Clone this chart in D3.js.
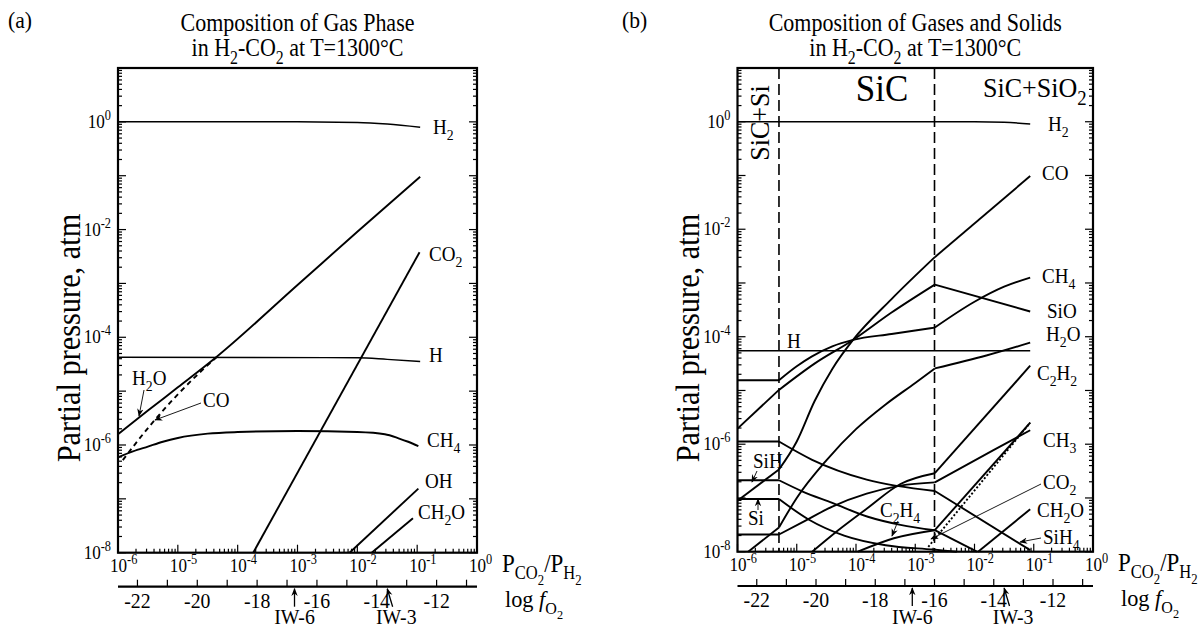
<!DOCTYPE html>
<html>
<head>
<meta charset="utf-8">
<script src="https://cdn.jsdelivr.net/npm/d3@7"></script>
<style>
  body { margin: 0; background: #fff; }
  svg { display: block; }
  text { font-family: "Liberation Serif", "Times New Roman", serif; fill: #000; }
</style>
</head>
<body>
<svg id="chart" width="1202" height="628"></svg>
<script>
// Every point is [log10(PCO2/PH2), log10(partial pressure in atm)].

// (a) gas phase only
const aH2   = [[-6,0],[-3,0],[-2,-0.01],[-1.5,-0.04],[-0.95,-0.10]];
const aH2O  = [[-6,-5.80],[-5.5,-5.36],[-5,-4.93],[-4.38,-4.39],[-3,-3.03],[-2,-2.04],[-0.95,-1.02]];
const aCO   = [[-5.92,-6.28],[-5.45,-5.62],[-5,-5.06],[-4.6,-4.62],[-4.3,-4.32]];
const aH    = [[-6,-4.37],[-2,-4.38],[-1.5,-4.41],[-0.95,-4.45]];
const aCH4  = [[-6,-6.23],[-5.75,-6.12],[-5.5,-6.03],[-5.25,-5.94],[-5,-5.87],[-4.5,-5.79],[-4,-5.76],[-3,-5.74],[-2,-5.76],[-1.54,-5.80],[-1.3,-5.88],[-1.15,-5.94],[-0.98,-6.02]];
const aCO2  = [[-3.74,-8],[-0.96,-2.42]];
const aOH   = [[-2.13,-8],[-0.98,-6.81]];
const aCH2O = [[-1.76,-8],[-1.07,-7.36]];

// (b) gases in equilibrium with Si-bearing solids
const bH2   = [[-6,0],[-2,0],[-1.5,-0.01],[-1.06,-0.04]];
const bH    = [[-6,-4.26],[-1.06,-4.26]];
const bCO   = [[-6,-7.05],[-5.30,-6.47],[-5.0,-5.95],[-4.7,-5.2],[-4.4,-4.6],[-4.05,-4.06],[-3.4,-3.3],[-2.67,-2.52],[-1.06,-1.01]];
const bSiO  = [[-6,-5.71],[-5.30,-4.99],[-4.7,-4.5],[-4.05,-4.06],[-3.4,-3.55],[-2.67,-3.03],[-1.06,-3.53]];
const bCH4  = [[-6,-4.81],[-5.30,-4.81],[-5.0,-4.55],[-4.75,-4.37],[-4.4,-4.18],[-4.05,-4.06],[-3.4,-3.95],[-2.67,-3.83],[-2.0,-3.35],[-1.5,-3.07],[-1.06,-2.90]];
const bH2O  = [[-5.82,-8],[-5.30,-7.55],[-5.0,-7.0],[-4.5,-6.3],[-4.0,-5.72],[-3.5,-5.26],[-3.0,-4.86],[-2.67,-4.59],[-1.8,-4.35],[-1.06,-4.11]];
const bC2H2 = [[-4.74,-8],[-4.3,-7.6],[-3.82,-7.2],[-3.25,-6.74],[-2.67,-6.54],[-1.06,-4.54]];
const bCH3  = [[-6,-7.68],[-5.30,-7.68],[-4.9,-7.45],[-4.4,-7.16],[-3.82,-6.92],[-3.25,-6.77],[-2.67,-6.71],[-1.68,-6.11],[-1.06,-5.74]];
const bSiH4 = [[-6,-5.95],[-5.30,-5.95],[-4.74,-6.29],[-3.82,-6.66],[-2.67,-6.87],[-1.06,-7.97]];
const bSiH  = [[-6,-6.67],[-5.30,-6.67],[-4.9,-6.88],[-4.4,-7.09],[-3.8,-7.35],[-3.25,-7.5],[-2.67,-7.60],[-1.96,-8]];
const bSi   = [[-6,-7.02],[-5.30,-7.02],[-4.8,-7.4],[-4.2,-7.7],[-3.5,-7.88],[-2.7,-7.96],[-2.3,-8]];
const bC2H4 = [[-3.97,-8],[-3.36,-7.75],[-2.67,-7.60],[-1.06,-5.60]];
const bCO2  = [[-2.78,-7.91],[-1.06,-5.60]];
const bCH2O = [[-1.94,-8],[-1.06,-7.21]];

// phase boundaries in panel (b), as log fO2: SiC+Si | SiC | SiC+SiO2
const phaseBoundariesFO2 = [-21.25, -16.0];

// axes
const ratioDecades    = [-6, -5, -4, -3, -2, -1, 0];
const pressureDecades = [-8, -7, -6, -5, -4, -3, -2, -1, 0, 1];
const pressureLabels  = [-8, -6, -4, -2, 0];
const fo2Labels       = [-22, -20, -18, -16, -14, -12];
const fo2Offset       = -10.65;          // log fO2 = 2*log(PCO2/PH2) + fo2Offset
const bufferMarks     = [{ name: "IW-6", fo2: -16.75, dx: 0 }, { name: "IW-3", fo2: -13.65, dx: 9 }];

const svg = d3.select("#chart");
const defs = svg.append("defs");
defs.append("marker").attr("id", "tip").attr("viewBox", "0 0 10 10")
  .attr("refX", 9).attr("refY", 5).attr("markerWidth", 8).attr("markerHeight", 8)
  .attr("markerUnits", "userSpaceOnUse").attr("orient", "auto")
  .append("path").attr("d", "M0,1 L10,5 L0,9 L3,5 Z").attr("fill", "#000");

// text with sub/superscripts: _{..} sub, __{..} second-level sub, ^{..} sup, *{..} italic
function rich(t, str, fs) {
  const re = /__\{([^}]*)\}|_\{([^}]*)\}|\^\{([^}]*)\}|\*\{([^}]*)\}|([^_^*]+)/g;
  let m, shift = 0;
  while ((m = re.exec(str)) !== null) {
    let off = 0, scale = 1, content, italic = false;
    if (m[1] !== undefined)      { off = 0.52; scale = 0.55; content = m[1]; }
    else if (m[2] !== undefined) { off = 0.30; scale = 0.72; content = m[2]; }
    else if (m[3] !== undefined) { off = -0.42; scale = 0.72; content = m[3]; }
    else if (m[4] !== undefined) { italic = true; content = m[4]; }
    else content = m[5];
    const ts = t.append("tspan").text(content).attr("dy", ((off - shift) * fs).toFixed(2));
    if (scale !== 1) ts.attr("font-size", (fs * scale).toFixed(1));
    if (italic) ts.attr("font-style", "italic");
    shift = off;
  }
  return t;
}
// the serif face is drawn slightly condensed (sx) to keep its tall proportions
function text(g, x, y, str, fs, anchor, rotate, sx) {
  const t = g.append("text").attr("x", 0).attr("y", 0).attr("font-size", fs)
    .attr("text-anchor", anchor || "start")
    .attr("transform", `translate(${x},${y}) rotate(${rotate || 0}) scale(${sx || 0.9},1)`);
  return rich(t, str, fs);
}

// split a series at phase boundaries so each field is smoothed on its own
function pieces(data, bounds) {
  const out = []; let cur = [];
  data.forEach((p, i) => {
    cur.push(p);
    if (i > 0 && i < data.length - 1 && bounds.some(b => Math.abs(b - p[0]) < 0.006)) {
      out.push(cur); cur = [p];
    }
  });
  out.push(cur);
  return out;
}

function drawPanel(cfg) {
  const g = svg.append("g");
  const x = d3.scaleLog().domain([1e-6, 1]).range([cfg.left, cfg.right]);
  const y = d3.scaleLog().domain([1e-8, 10]).range([cfg.bottom, cfg.top]);
  const line = d3.line().x(d => x(10 ** d[0])).y(d => y(10 ** d[1])).curve(d3.curveMonotoneX);

  // frame
  g.append("rect").attr("x", cfg.left).attr("y", cfg.top)
    .attr("width", cfg.right - cfg.left).attr("height", cfg.bottom - cfg.top)
    .attr("fill", "none").attr("stroke", "#000").attr("stroke-width", 2.2);

  const ticks = g.append("g").attr("stroke", "#000").attr("stroke-width", 1.2);
  // pressure ticks on both sides
  pressureDecades.forEach(e => {
    for (let k = 1; k <= 9; k++) {
      const v = k * 10 ** e;
      if (v > 10 || (e === 1 && k > 1)) break;
      const py = y(v), len = k === 1 ? 8 : 4;
      ticks.append("line").attr("x1", cfg.left).attr("x2", cfg.left + len).attr("y1", py).attr("y2", py);
      ticks.append("line").attr("x1", cfg.right - len).attr("x2", cfg.right).attr("y1", py).attr("y2", py);
    }
  });
  pressureLabels.forEach(e => text(g, cfg.left - 7, y(10 ** e) + 6, `10^{${e}}`, 19, "end"));

  // ratio ticks along the bottom
  ratioDecades.forEach(e => {
    for (let k = 1; k <= 9; k++) {
      const v = k * 10 ** e;
      if (v > 1) break;
      const px = x(v), len = k === 1 ? 8 : 4;
      ticks.append("line").attr("x1", px).attr("x2", px).attr("y1", cfg.bottom).attr("y2", cfg.bottom - len);
    }
    text(g, x(10 ** e) - 8, cfg.bottom + 19, `10^{${e}}`, 19, "start");
  });
  text(g, cfg.right + 25, cfg.bottom + 19, "P_{CO}__{2}/P_{H}__{2}", 25, "start", 0, 0.92);

  // oxygen fugacity scale
  const fx = f => x(10 ** ((f - fo2Offset) / 2));
  g.append("line").attr("x1", cfg.left).attr("x2", cfg.right).attr("y1", cfg.fo2Y).attr("y2", cfg.fo2Y)
    .attr("stroke", "#000").attr("stroke-width", 2.2);
  const fmin = Math.ceil(2 * -6 + fo2Offset), fmax = Math.floor(fo2Offset);
  for (let f = fmin; f <= fmax; f++) {
    ticks.append("line").attr("x1", fx(f)).attr("x2", fx(f)).attr("y1", cfg.fo2Y).attr("y2", cfg.fo2Y - 7);
  }
  fo2Labels.forEach(f => text(g, fx(f), cfg.fo2Y + 21, String(f), 22, "middle"));
  text(g, cfg.right + 28, cfg.fo2Y + 20, "log *{f}_{O}__{2}", 24, "start", 0, 0.93);
  bufferMarks.forEach(b => {
    const px = fx(b.fo2);
    g.append("line").attr("x1", px + b.dx * 0.6).attr("y1", cfg.fo2Y + 20)
      .attr("x2", px).attr("y2", cfg.fo2Y + 2)
      .attr("stroke", "#000").attr("stroke-width", 1.3).attr("marker-end", "url(#tip)");
    text(g, px + b.dx, cfg.fo2Y + 37.5, b.name, 22, "middle");
  });

  // axis title
  text(g, cfg.ytitleX, cfg.ytitleY, "Partial pressure, atm", 33, "middle", -90, 0.92);

  // titles
  const cx = (cfg.left + cfg.right) / 2;
  text(g, cx, 31, cfg.title1, 25, "middle", 0, 0.88);
  text(g, cx, 56, cfg.title2, 25, "middle", 0, 0.88);
  text(g, cfg.tagX, 28, cfg.tag, 24, "start");

  // phase boundaries
  (cfg.boundaries || []).forEach(f => {
    g.append("line").attr("x1", fx(f)).attr("x2", fx(f)).attr("y1", cfg.top).attr("y2", cfg.bottom)
      .attr("stroke", "#000").attr("stroke-width", 1.6).attr("stroke-dasharray", "11,5");
  });
  const bounds = (cfg.boundaries || []).map(f => (f - fo2Offset) / 2);

  // species curves
  const curves = g.append("g").attr("fill", "none").attr("stroke", "#000").attr("stroke-linejoin", "round");
  cfg.series.forEach(s => {
    pieces(s.data, bounds).forEach(p => {
      curves.append("path").attr("d", line(p))
        .attr("stroke-width", s.width || 1.9)
        .attr("stroke-dasharray", s.dash || null);
    });
  });

  // species labels and leaders
  cfg.labels.forEach(l => text(g, l.x, l.y, l.text, 20.5, "start", 0, 0.93));
  (cfg.leaders || []).forEach(l => {
    g.append("line").attr("x1", l[0]).attr("y1", l[1]).attr("x2", l[2]).attr("y2", l[3])
      .attr("stroke", "#000").attr("stroke-width", 0.9).attr("marker-end", "url(#tip)");
  });
  return { g, x, y, fx };
}

// panel (a)
drawPanel({
  left: 118, right: 477, top: 68, bottom: 552.7, fo2Y: 586.7,
  ytitleX: 80, ytitleY: 338, tag: "(a)", tagX: 8,
  title1: "Composition of Gas Phase", title2: "in H_{2}-CO_{2} at T=1300°C",
  series: [
    { data: aH2, width: 1.5 }, { data: aH2O }, { data: aCO, dash: "5,4" },
    { data: aH, width: 1.4 }, { data: aCH4 }, { data: aCO2 }, { data: aOH }, { data: aCH2O }
  ],
  labels: [
    { text: "H_{2}", x: 433, y: 134 }, { text: "CO_{2}", x: 429, y: 261 },
    { text: "H", x: 429, y: 362 }, { text: "CH_{4}", x: 427, y: 447 },
    { text: "OH", x: 425, y: 488 }, { text: "CH_{2}O", x: 418, y: 519 },
    { text: "H_{2}O", x: 132, y: 385 }, { text: "CO", x: 203, y: 407 }
  ],
  leaders: [[144, 390, 139, 416], [201, 403, 155, 420]]
});

// panel (b)
const pb = drawPanel({
  left: 737.5, right: 1093, top: 68, bottom: 551.7, fo2Y: 586,
  ytitleX: 699, ytitleY: 338, tag: "(b)", tagX: 622,
  title1: "Composition of Gases and Solids", title2: "in H_{2}-CO_{2}  at T=1300°C",
  boundaries: phaseBoundariesFO2,
  series: [
    { data: bH2, width: 1.5 }, { data: bH, width: 1.4 }, { data: bCO }, { data: bSiO }, { data: bCH4 },
    { data: bH2O }, { data: bC2H2 }, { data: bCH3 }, { data: bSiH4 }, { data: bSiH }, { data: bSi },
    { data: bC2H4 }, { data: bCO2, dash: "2,2" }, { data: bCH2O }
  ],
  labels: [
    { text: "H_{2}", x: 1048, y: 131 }, { text: "CO", x: 1042, y: 180 },
    { text: "CH_{4}", x: 1042, y: 283 }, { text: "SiO", x: 1047, y: 318 },
    { text: "H_{2}O", x: 1046, y: 341 }, { text: "C_{2}H_{2}", x: 1037, y: 380 },
    { text: "CH_{3}", x: 1043, y: 447 }, { text: "CO_{2}", x: 1043, y: 489 },
    { text: "CH_{2}O", x: 1037, y: 517 }, { text: "SiH_{4}", x: 1043, y: 544 },
    { text: "H", x: 787, y: 348 }, { text: "SiH", x: 753, y: 468 },
    { text: "Si", x: 748, y: 525 }, { text: "C_{2}H_{4}", x: 880, y: 517 }
  ],
  leaders: [[757, 471, 752, 482], [758, 510, 758, 499], [898, 521, 892, 536],
            [1041, 484, 931, 539], [1041, 538, 1020, 542]]
});
// stability fields
text(pb.g, 769, 123, "SiC+Si", 28, "middle", -90, 0.93);
text(pb.g, 882, 101, "SiC", 38, "middle", 0, 0.92);
text(pb.g, 983, 97, "SiC+SiO_{2}", 28, "start", 0, 0.93);
</script>
</body>
</html>
